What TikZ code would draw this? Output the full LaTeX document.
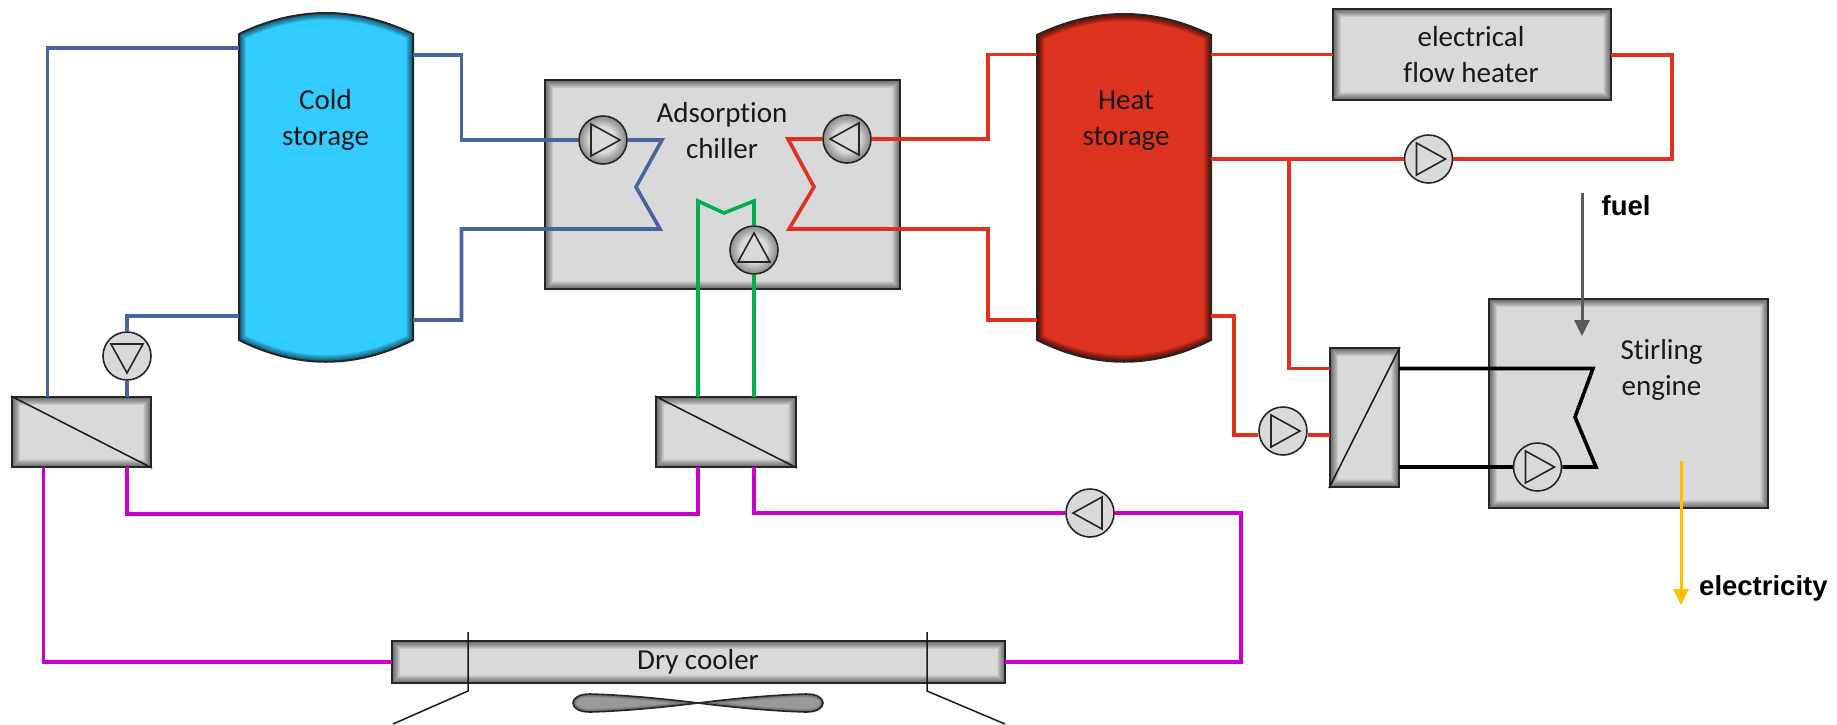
\documentclass[tikz,border=0pt]{standalone}
\usepackage{fontspec}
\setmainfont{Carlito}[Ligatures=NoCommon]
\usetikzlibrary{arrows.meta}
\definecolor{boxgray}{HTML}{D9D9D9}
\definecolor{coldfill}{HTML}{33CCFF}
\definecolor{heatfill}{HTML}{DC3220}
\definecolor{bluepipe}{HTML}{46659C}
\definecolor{redpipe}{HTML}{E0301E}
\definecolor{greenpipe}{HTML}{00B050}
\definecolor{magpipe}{HTML}{CC00CC}
\definecolor{fuelcol}{HTML}{595959}
\definecolor{eleccol}{HTML}{FFC000}
\newcommand{\coldshape}{(239,34) .. controls (297,6) and (355,6) .. (413,34) -- (413,340) .. controls (355,369) and (297,369) .. (239,340) -- cycle}
\newcommand{\heatshape}{(1037,35) .. controls (1095,7) and (1153,7) .. (1211,35) -- (1211,340) .. controls (1153,369) and (1095,369) .. (1037,340) -- cycle}
\newcommand{\fanshape}{(698,703) .. controls (730,699) and (770,695) .. (806,694) .. controls (817,694) and (823,698) .. (823,703) .. controls (823,708) and (817,712) .. (806,712) .. controls (770,711) and (730,707) .. (698,703) .. controls (666,699) and (626,695) .. (590,694) .. controls (579,694) and (573,698) .. (573,703) .. controls (573,708) and (579,712) .. (590,712) .. controls (626,711) and (666,707) .. (698,703) -- cycle}
\newcommand{\pumptri}[2]{\draw[line width=1.6,black!85,line join=miter,shift={(#1.center)},rotate=#2] (-12,-16) -- (-12,16) -- (17,0) -- cycle;}
\tikzset{
  x=1pt,y=-1pt,
  txt/.style={font=\fontsize{29}{36}\selectfont,align=center,text=black!90},
  boldtxt/.style={font=\fontsize{27.5}{33}\selectfont\fontspec{Liberation Sans Bold},anchor=west,inner sep=0},
  unit/.style={rectangle,draw=black!85,line width=2,fill=boxgray,inner sep=0,
    path picture={\foreach \w in {1,2,...,16}{\draw[line width=\w,black,opacity=.04]
      (path picture bounding box.north west) rectangle (path picture bounding box.south east);}}},
  pump/.style={circle,draw=black!85,line width=1.6,fill=boxgray,inner sep=0,minimum size=48},
  gpump/.style={circle,draw=black!85,line width=1.6,fill=boxgray,inner sep=0,minimum size=48,
    path picture={\foreach \w in {2,4,...,20}{\draw[line width=\w,black,opacity=.04]
      (path picture bounding box.center) circle (24);}}},
  pipe/.style={line width=3.6,line join=miter},
  pblue/.style={pipe,draw=bluepipe},
  pred/.style={pipe,draw=redpipe},
  pgreen/.style={pipe,draw=greenpipe},
  pmag/.style={pipe,draw=magpipe},
  pblack/.style={pipe,draw=black},
  thin line/.style={line width=1.5,draw=black!90},
  flow/.style={line width=3,-{Triangle[width=15pt,length=16pt]}},
  geo/.style={rectangle,inner sep=0,draw=none,fill=none},
}
\begin{document}
\begin{tikzpicture}
\useasboundingbox (0,0) rectangle (1837,724);

% tanks
\draw[line width=2,draw=black!85,fill=coldfill,path picture={\foreach \w in {1,2,...,14}{\draw[line width=\w,black,opacity=.05] \coldshape;}}] \coldshape;
\draw[line width=2,draw=black!85,fill=heatfill,path picture={\foreach \w in {1,2,...,14}{\draw[line width=\w,black,opacity=.06] \heatshape;}}] \heatshape;
\node[geo,minimum width=174,minimum height=349] (cold) at (326,187.5) {};
\node[geo,minimum width=174,minimum height=349] (heat) at (1124,187.5) {};
\node[txt] (coldlabel) at (325.5,120) {Cold\\storage};
\node[txt] (heatlabel) at (1126,121) {Heat\\storage};

% units
\node[unit,minimum width=355,minimum height=209] (chiller) at (722.5,184.5) {};
\node[txt] (chillerlabel) at (722,131) {Adsorption\\chiller};
\node[unit,minimum width=278,minimum height=91] (heater) at (1472,54.5) {};
\node[txt] (heaterlabel) at (1471,55) {electrical\\flow heater};
\node[unit,minimum width=279,minimum height=209] (stirling) at (1628.5,403.5) {};
\node[txt] (stirlinglabel) at (1661.5,370) {Stirling\\engine};
\node[unit,minimum width=613,minimum height=42] (dry) at (698.5,662) {};
\node[txt] (drylabel) at (698,662) {Dry cooler};
\node[unit,minimum width=139,minimum height=70] (hxa) at (81.5,432) {};
\node[unit,minimum width=140,minimum height=70] (hxb) at (726,432) {};
\node[unit,minimum width=69,minimum height=139] (hxc) at (1364.5,417.5) {};
\draw[thin line] (hxa.north west) -- (hxa.south east);
\draw[thin line] (hxb.north west) -- (hxb.south east);
\draw[thin line] (hxc.south west) -- (hxc.north east);

% pumps
\node[gpump] (pcold) at (603,140) {};
\node[gpump] (phot) at (847,139) {};
\node[gpump] (pgreen) at (754,250) {};
\node[pump] (pa) at (127,356) {};
\node[pump] (pb) at (1428.5,159) {};
\node[pump] (pc) at (1283,431) {};
\node[pump] (pd) at (1537.5,467) {};
\node[pump] (pe) at (1090,513) {};
\pumptri{pcold}{0}
\pumptri{phot}{180}
\pumptri{pgreen}{90}
\pumptri{pa}{-90}
\pumptri{pb}{0}
\pumptri{pc}{0}
\pumptri{pd}{0}
\pumptri{pe}{180}

% named ports
\coordinate (c1) at (239,48);
\coordinate (c2) at (239,316);
\coordinate (c3) at (413,55);
\coordinate (c4) at (413,320);
\coordinate (xa1) at (47.5,397);
\coordinate (xa2) at (127,397);
\coordinate (xa3) at (43.5,467);
\coordinate (xa4) at (127,467);
\coordinate (xb1) at (698,397);
\coordinate (xb2) at (754,397);
\coordinate (xb3) at (698,467);
\coordinate (xb4) at (754,467);
\coordinate (h1) at (1037,54.5);
\coordinate (h2) at (1037,320);
\coordinate (h3) at (1211,54.5);
\coordinate (h4) at (1211,159);
\coordinate (h5) at (1211,316);
\coordinate (xc1) at (1330,368.5);
\coordinate (xc2) at (1330,435);
\coordinate (xc3) at (1399,368.5);
\coordinate (xc4) at (1399,467);
\coordinate (d1) at (391.5,662);
\coordinate (d2) at (1005,662);
\coordinate (t1) at (1333,54.5);
\coordinate (t2) at (1611,55);
\coordinate (branch) at (1289,159);

% blue circuit
\draw[pblue] (c1) -| (xa1);
\draw[pblue] (c2) -| (pa.north);
\draw[pblue] (pa.south) -- (xa2);
\draw[pblue] (c3) -- (461.5,55) |- (pcold.west);
\draw[pblue] (pcold.east) -- (662,140) -- (636,187) -- (660,229) -- (461.5,229) |- (c4);

% red circuit
\draw[pred] (phot.west) -- (788,139) -- (814,187) -- (789,229) -- (988,229) |- (h2);
\draw[pred] (phot.east) -- (988,139) |- (h1);
\draw[pred] (h3) -- (t1);
\draw[pred] (t2) -- (1672,55) |- (pb.east);
\draw[pred] (pb.west) -- (h4);
\draw[pred] (branch) |- (xc1);
\draw[pred] (h5) -- (1234,316) |- (pc.west |- xc2);
\draw[pred] (pc.east |- xc2) -- (xc2);

% green circuit
\draw[pgreen] (xb1) -- (698,201) -- (724,213) -- (754,201) -- (pgreen.north);
\draw[pgreen] (pgreen.south) -- (xb2);

% black circuit
\draw[pblack] (xc3) -- (1593,368.5) -- (1575,417) -- (1596,467) -- (pd.east);
\draw[pblack] (pd.west) -- (xc4);

% magenta circuit
\draw[pmag] (xa3) |- (d1);
\draw[pmag] (xa4) -- (127,514) -| (xb3);
\draw[pmag] (xb4) |- (pe.west);
\draw[pmag] (pe.east) -- (1241,513) |- (d2);

% dry cooler supports and fan
\coordinate (sa) at (468,632);
\coordinate (sb) at (468,691);
\coordinate (sc) at (393,724);
\coordinate (sd) at (927,632);
\coordinate (se) at (927,691);
\coordinate (sf) at (1005,724);
\draw[thin line] (sa) -- (sb) -- (sc);
\draw[thin line] (sd) -- (se) -- (sf);
\draw[line width=1.6,draw=black!85,fill=black!40,path picture={\foreach \w in {2,4,6}{\draw[line width=\w,black,opacity=.12] \fanshape;}}] \fanshape;

% flows
\coordinate (fa) at (1582,193);
\coordinate (fb) at (1582,336);
\coordinate (ea) at (1681,461);
\coordinate (eb) at (1681,605);
\draw[flow,draw=fuelcol,fill=fuelcol,color=fuelcol] (fa) -- (fb);
\draw[flow,draw=eleccol,fill=eleccol,color=eleccol] (ea) -- (eb);
\node[boldtxt] (fuellabel) at (1601.5,206) {fuel};
\node[boldtxt] (eleclabel) at (1699,588.5) {electricity};
\end{tikzpicture}
\end{document}
